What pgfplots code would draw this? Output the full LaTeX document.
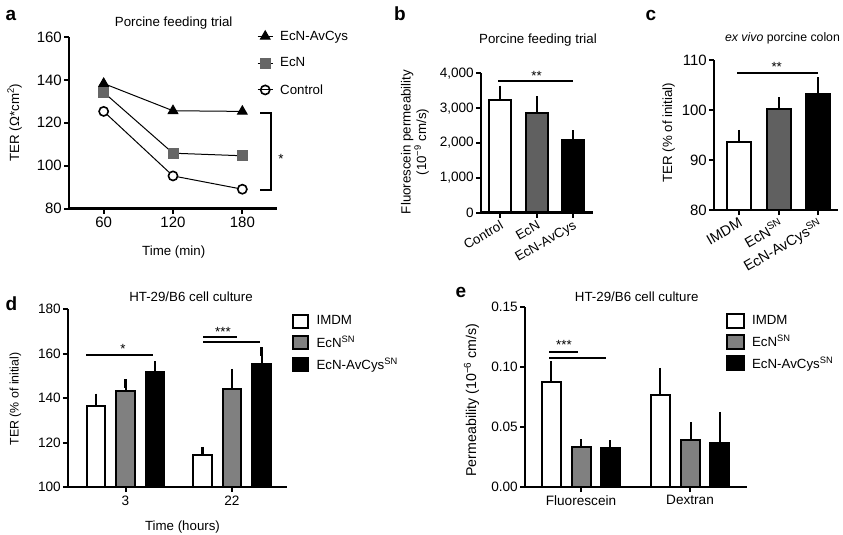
\documentclass[border=0pt]{standalone}
\usepackage{fontspec}
\setmainfont{Liberation Sans}
\usepackage{pgfplots}
\pgfplotsset{compat=1.18}
\definecolor{gA}{HTML}{666666}
\definecolor{gB}{HTML}{606060}
\definecolor{gD}{HTML}{808080}
\newcommand\fs{\fontsize{13.3bp}{15bp}\selectfont}
\newcommand\ft{\fontsize{13.6bp}{15bp}\selectfont}
\newcommand\fb{\fontsize{15bp}{17bp}\selectfont}
\newcommand\fl{\fontseries{b}\fontsize{19bp}{20bp}\selectfont}
\pgfplotsset{
 prism/.style={
  scale only axis, axis on top,
  axis x line=bottom, axis y line=left,
  axis line style={line width=2.5bp, black, -},
  tick align=outside, major tick length=5bp,
  tick style={line width=2bp, black},
  ticklabel style={font=\ft},
  /pgf/number format/assume math mode=true,
  yticklabel style={inner sep=2bp},
  minor tick num=0, enlargelimits=false,
 },
 legbox/.style={legend image code/.code={\draw[##1, line width=2bp] (0bp,-6.5bp) rectangle (15bp,6.5bp);}},
 legboxE/.style={legend image code/.code={\draw[##1, line width=2bp] (0bp,-7bp) rectangle (17bp,7bp);}},
 barS/.style={ybar, bar shift=0pt, bar width=#1, draw=black, line width=2bp, forget plot,
  error bars/y dir=plus, error bars/y explicit,
  error bars/error bar style={line width=2bp, black},
  error bars/error mark options={line width=2bp, black, mark size=4.5bp}},
}
\begin{document}
\begin{tikzpicture}
\path[use as bounding box] (0,0) rectangle (843bp,-535bp);

% ---------- panel a ----------
\begin{axis}[prism, at={(69bp,-208.5bp)}, anchor=south west,
  width=208bp, height=171.5bp,
  xmin=30, xmax=210, ymin=80, ymax=160,
  ticklabel style={font=\fb},
  xtick={60,120,180}, ytick={80,100,...,160},
  legend style={at={(axis description cs:0.904,1.048)}, anchor=north west,
    draw=none, fill=none, font=\fs, inner sep=0pt, row sep=12bp, column sep=5bp},
  legend cell align=left,
  legend image code/.code={\draw[mark repeat=2,mark phase=2,#1] plot coordinates {(0bp,0bp)(7.5bp,0bp)(15bp,0bp)};}]
\addlegendimage{black, line width=1bp, mark=triangle*, mark size=5.5bp, mark options={fill=black}}
\addlegendentry{EcN-AvCys}
\addlegendimage{black, line width=1bp, mark=square*, mark size=5bp, mark options={fill=gA, draw=gA}}
\addlegendentry{EcN}
\addlegendimage{black, line width=1bp, mark=o, mark size=4.6bp, mark options={draw=black, fill=none, line width=1.6bp}}
\addlegendentry{Control}
\addplot[black, line width=1bp, mark=*, mark size=4.6bp, mark options={fill=white, draw=black, line width=1.6bp}, forget plot]
  coordinates {(60,125.3) (120,95.2) (180,89.0)};
\addplot[black, line width=1bp, mark=square*, mark size=5bp, mark options={fill=gA, draw=gA}, forget plot]
  coordinates {(60,134.2) (120,105.8) (180,104.6)};
\addplot[black, line width=1bp, mark=triangle*, mark size=5.5bp, mark options={fill=black}, forget plot]
  coordinates {(60,138.3) (120,125.6) (180,125.3)};
\draw[line width=2bp] (axis cs:195.3,124.7) -- (axis cs:204.5,124.7) -- (axis cs:204.5,88.6) -- (axis cs:195.3,88.6);
\end{axis}

% ---------- panel b ----------
\begin{axis}[prism, at={(481bp,-212.7bp)}, anchor=south west,
  width=112bp, height=139.4bp,
  xmin=481, xmax=593, ymin=0, ymax=4000,
  xtick={500,537,573}, xticklabels={Control,EcN,EcN-AvCys},
  xticklabel style={rotate=30, anchor=north east, inner sep=1.5bp, font=\fs},
  ytick={0,1000,...,4000}, yticklabels={0,{1,000},{2,000},{3,000},{4,000}}]
\addplot[barS=22, fill=white] coordinates {(500,3220) +- (0,300)};
\addplot[barS=22, fill=gB] coordinates {(537,2870) +- (0,340)};
\addplot[barS=22, fill=black] coordinates {(573,2080) +- (0,160)};
\draw[line width=2bp] (axis cs:498,3779) -- (axis cs:573,3779);
\end{axis}

% ---------- panel c ----------
\begin{axis}[prism, at={(714bp,-210bp)}, anchor=south west,
  width=124bp, height=150bp,
  xmin=714, xmax=838, ymin=80, ymax=110,
  ticklabel style={font=\fb},
  xtick={739,779,818}, xticklabels={IMDM,EcN\textsuperscript{SN},EcN-AvCys\textsuperscript{SN}},
  xticklabel style={rotate=30, anchor=north east, inner sep=1.5bp, font=\fontsize{14.4bp}{16bp}\selectfont},
  ytick={80,90,100,110}]
\addplot[barS=24, fill=white] coordinates {(739,93.7) +- (0,1.45)};
\addplot[barS=24, fill=gB] coordinates {(779,100.2) +- (0,1.45)};
\addplot[barS=24, fill=black] coordinates {(818,103.2) +- (0,2.45)};
\draw[line width=2bp] (axis cs:737,107.5) -- (axis cs:818,107.5);
\end{axis}

% ---------- panel d ----------
\begin{axis}[prism, at={(68bp,-487bp)}, anchor=south west,
  width=219bp, height=178bp,
  xmin=68, xmax=287, ymin=100, ymax=180,
  xtick={125.5,232}, xticklabels={3,22},
  ytick={100,120,...,180},
  legend style={at={(axis description cs:1.02,0.975)}, anchor=north west,
    draw=none, fill=none, font=\fs, inner sep=0pt, row sep=5bp, column sep=6bp},
  legend cell align=left]
\addlegendimage{legbox, fill=white}\addlegendentry{IMDM}
\addlegendimage{legbox, fill=gD}\addlegendentry{EcN\textsuperscript{SN}}
\addlegendimage{legbox, fill=black}\addlegendentry{EcN-AvCys\textsuperscript{SN}}
\addplot[barS=18.5, fill=white] coordinates {(96,136.5) +- (0,3.5) (202.5,114.4) +- (0,1.6)};
\addplot[barS=18.5, fill=gD] coordinates {(125.5,143.3) +- (0,3.0) (232,144.0) +- (0,7.1)};
\addplot[barS=18.5, fill=black] coordinates {(155,151.8) +- (0,2.7) (261.5,155.3) +- (0,5.5)};
\draw[line width=2bp] (axis cs:86,159.3) -- (axis cs:152.7,159.3);
\draw[line width=2bp] (axis cs:203,167.55) -- (axis cs:236.7,167.55);
\draw[line width=2bp] (axis cs:203,165.0) -- (axis cs:260,165.0);
\end{axis}

% ---------- panel e ----------
\begin{axis}[prism, at={(525bp,-487bp)}, anchor=south west,
  width=222bp, height=180.3bp,
  xmin=525, xmax=747, ymin=0, ymax=0.15,
  xtick={581,690}, xticklabels={Fluorescein,Dextran},
  ytick={0,0.05,0.10,0.15}, yticklabels={0.00,0.05,0.10,0.15},
  legend style={at={(axis description cs:0.905,0.968)}, anchor=north west,
    draw=none, fill=none, font=\fs, inner sep=0pt, row sep=4.5bp, column sep=5bp},
  legend cell align=left]
\addlegendimage{legboxE, fill=white}\addlegendentry{IMDM}
\addlegendimage{legboxE, fill=gD}\addlegendentry{EcN\textsuperscript{SN}}
\addlegendimage{legboxE, fill=black}\addlegendentry{EcN-AvCys\textsuperscript{SN}}
\addplot[barS=19, fill=white] coordinates {(551,0.0876) +- (0,0.0132) (660,0.0768) +- (0,0.0185)};
\addplot[barS=19, fill=gD] coordinates {(581,0.0331) +- (0,0.0029) (690.5,0.0395) +- (0,0.0105)};
\addplot[barS=19, fill=black] coordinates {(610,0.0326) +- (0,0.0024) (719.5,0.0368) +- (0,0.022)};
\draw[line width=2bp] (axis cs:549,0.1126) -- (axis cs:578,0.1126);
\draw[line width=2bp] (axis cs:549,0.1071) -- (axis cs:606,0.1071);
\end{axis}

% ---------- texts ----------
\begin{scope}[every node/.style={font=\fs, inner sep=0pt}]
\node[font=\fl, anchor=base] at (11bp,-20.7bp) {a};
\node[font=\fl, anchor=base] at (400bp,-20.7bp) {b};
\node[font=\fl, anchor=base] at (651bp,-20.7bp) {c};
\node[font=\fl, anchor=base] at (11.5bp,-310.7bp) {d};
\node[font=\fl, anchor=base] at (461bp,-297.3bp) {e};
\node[anchor=base] at (173.7bp,-26bp) {Porcine feeding trial};
\node[anchor=base] at (538bp,-43.3bp) {Porcine feeding trial};
\node[anchor=base, font=\fontsize{12.3bp}{14bp}\selectfont] at (782.5bp,-41.7bp) {\textit{ex vivo} porcine colon};
\node[anchor=base] at (191bp,-301.7bp) {HT-29/B6 cell culture};
\node[anchor=base] at (636.7bp,-301bp) {HT-29/B6 cell culture};
\node[anchor=base] at (173.7bp,-255bp) {Time (min)};
\node[anchor=base] at (182.5bp,-530.7bp) {Time (hours)};
\node[anchor=base, rotate=90] at (19bp,-122.5bp) {TER (Ω*cm\textsuperscript{2})};
\node[anchor=base, rotate=90, align=center, font=\fontsize{13.3bp}{12bp}\selectfont] at (426bp,-142bp) {Fluorescein permeability\\(10\textsuperscript{−9} cm/s)};
\node[anchor=base, rotate=90] at (672bp,-132.5bp) {TER (\% of initial)};
\node[anchor=base, rotate=90, font=\fontsize{12.4bp}{14bp}\selectfont] at (18.5bp,-399bp) {TER (\% of initial)};
\node[anchor=base, rotate=90, font=\fontsize{14.2bp}{16bp}\selectfont] at (476bp,-400bp) {Permeability (10\textsuperscript{−6} cm/s)};
\node[anchor=base] at (281bp,-163.7bp) {*};
\node[anchor=base] at (536.5bp,-80.4bp) {**};
\node[anchor=base] at (776.7bp,-71bp) {**};
\node[anchor=base] at (123bp,-353.7bp) {*};
\node[anchor=base] at (223bp,-336.7bp) {***};
\node[anchor=base] at (564bp,-349.4bp) {***};
\end{scope}
\end{tikzpicture}
\end{document}
